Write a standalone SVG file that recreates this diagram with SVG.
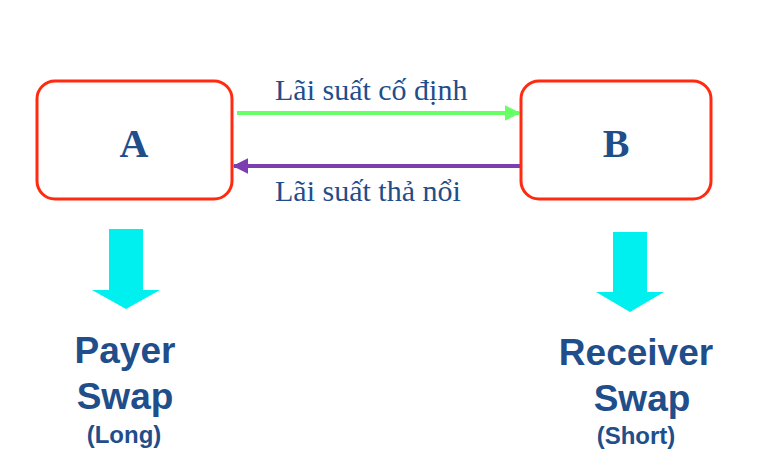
<svg xmlns="http://www.w3.org/2000/svg" width="768" height="473" viewBox="0 0 768 473">
<style>
.box{fill:#fff;stroke:#ff2a10;stroke-width:3}
.letter{font-family:"Liberation Serif",serif;font-weight:bold;font-size:40px;fill:#1f4e8a;text-anchor:middle}
.lbl{font-family:"Liberation Serif",serif;font-size:30px;fill:#1f4e8a}
.big{font-family:"Liberation Sans",Arial,sans-serif;font-weight:bold;font-size:37px;fill:#1f4e8a;text-anchor:middle}
.small{font-family:"Liberation Sans",Arial,sans-serif;font-weight:bold;font-size:24px;fill:#1f4e8a;text-anchor:middle}
.down{fill:#00f0f0}
</style>
<defs>
<marker id="hg" markerWidth="4" markerHeight="4" refX="3.6" refY="2" orient="auto" markerUnits="strokeWidth"><path d="M0,0 L4,2 L0,4 z" fill="#66ff66"/></marker>
<marker id="hp" markerWidth="4" markerHeight="4" refX="3.6" refY="2" orient="auto" markerUnits="strokeWidth"><path d="M0,0 L4,2 L0,4 z" fill="#7b3fb0"/></marker>
</defs>
<rect width="768" height="473" fill="#fff"/>
<g id="connectors">
<line x1="237" y1="113" x2="519" y2="113" stroke="#66ff66" stroke-width="4" marker-end="url(#hg)"/>
<line x1="520" y1="166" x2="234" y2="166" stroke="#7b3fb0" stroke-width="4" marker-end="url(#hp)"/>
<text class="lbl" x="275" y="100">Lãi suất cố định</text>
<text class="lbl" x="275" y="201">Lãi suất thả nổi</text>
</g>
<g id="nodeA">
<rect class="box" x="37" y="81" width="195" height="118" rx="18"/>
<text class="letter" x="134" y="157">A</text>
</g>
<g id="nodeB">
<rect class="box" x="521" y="81" width="190" height="118" rx="18"/>
<text class="letter" x="616" y="157">B</text>
</g>
<g id="payer">
<polygon class="down" points="109,229 143,229 143,290 160,290 126,309 92,290 109,290"/>
<text class="big" x="125" y="363">Payer</text>
<text class="big" x="125" y="409">Swap</text>
<text class="small" x="124" y="443">(Long)</text>
</g>
<g id="receiver">
<polygon class="down" points="613,232 647,232 647,292 664,292 630,312 596,292 613,292"/>
<text class="big" x="636" y="365">Receiver</text>
<text class="big" x="642" y="411">Swap</text>
<text class="small" x="636" y="444">(Short)</text>
</g>
</svg>
